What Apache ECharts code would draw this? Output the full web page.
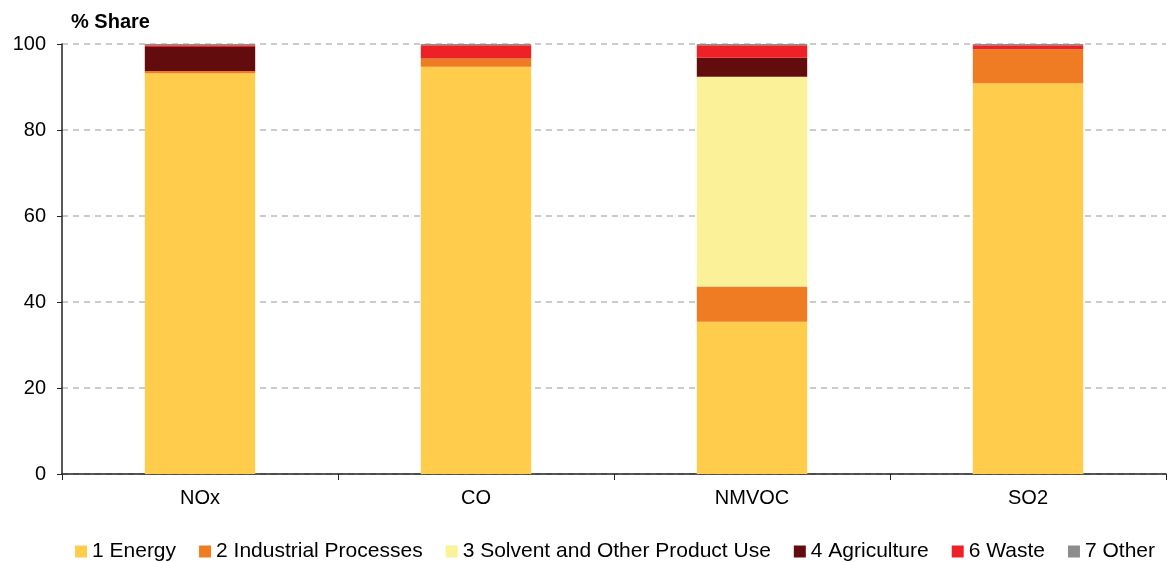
<!DOCTYPE html>
<html>
<head>
<meta charset="utf-8">
<script src="https://cdn.jsdelivr.net/npm/echarts@6/dist/echarts.min.js"></script>
<style>
    html, body { margin: 0; padding: 0; background: #fff; }
    #container { width: 1172px; height: 562px; }
</style>
</head>
<body>
<div id="container"></div>
<script>
    // 数据
    let categories = ['NOx', 'CO', 'NMVOC', 'SO2'];
    let energy = [93.2, 94.7, 35.4, 90.9];
    let industrial = [0.5, 1.9, 8.2, 7.9];
    let solvent = [0, 0, 48.8, 0];
    let agriculture = [5.6, 0.1, 4.4, 0];
    let waste = [0.4, 3.0, 2.9, 0.9];
    let other = [0.3, 0.3, 0.3, 0.3];
    let yTicks = [0, 20, 40, 60, 80, 100];

    let seriesNames = ['1 Energy', '2 Industrial Processes', '3 Solvent and Other Product Use',
        '4 Agriculture', '6 Waste', '7 Other'];
    let seriesData = [energy, industrial, solvent, agriculture, waste, other];
    let colors = ['#FFCC4C', '#EF7B23', '#FAF198', '#620C0E', '#EE2226', '#8C8C8C'];

    let dom = document.getElementById("container");
    let myChart = echarts.init(dom);

    let series = [];
    seriesNames.forEach(function (name, i) {
        series.push({
            name: name,
            type: 'bar',
            stack: 'total',
            barWidth: '40%',
            itemStyle: { color: colors[i] },
            data: seriesData[i]
        });
    });

    let option = {
        animation: false,
        textStyle: { fontFamily: 'Liberation Sans, Arial, sans-serif' },
        title: {
            text: '% Share',
            left: 66,
            top: 7,
            textStyle: { fontSize: 20, fontWeight: 'bold', color: '#000', fontFamily: 'Liberation Sans, Arial, sans-serif' }
        },
        grid: { left: 62, right: 6, top: 44, bottom: 88, containLabel: false },
        legend: {
            top: 536,
            left: 70,
            itemWidth: 12,
            itemHeight: 12,
            itemGap: 23,
            icon: 'rect',
            textStyle: { fontSize: 21, color: '#000' },
            data: seriesNames
        },
        xAxis: {
            type: 'category',
            data: categories,
            axisLine: { lineStyle: { color: '#222', width: 1.5 } },
            axisTick: { show: true, length: 6, lineStyle: { color: '#222' } },
            axisLabel: { fontSize: 20, color: '#000', margin: 14 }
        },
        yAxis: {
            type: 'value',
            min: yTicks[0],
            max: yTicks[yTicks.length - 1],
            interval: 20,
            axisLine: { show: true, lineStyle: { color: '#222', width: 1.5 } },
            axisTick: { show: true, length: 5, lineStyle: { color: '#222' } },
            axisLabel: { fontSize: 20, color: '#000', margin: 16 },
            splitLine: { lineStyle: { color: '#bbb', type: [6, 5], width: 1.5 } }
        },
        series: series
    };
    myChart.setOption(option, true);
</script>
</body>
</html>
